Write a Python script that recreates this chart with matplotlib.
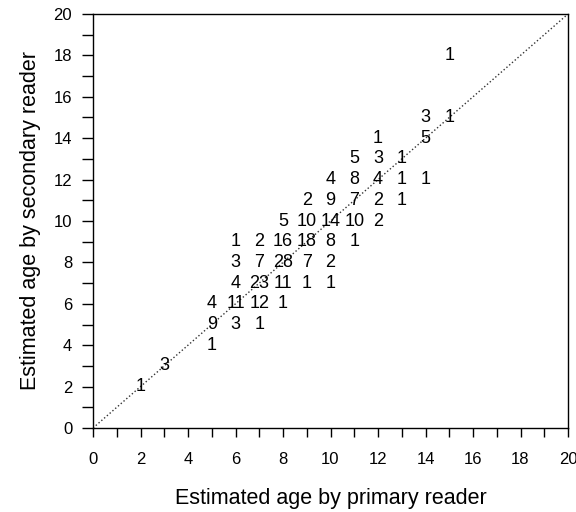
import matplotlib
matplotlib.use("Agg")
import matplotlib.pyplot as plt
import numpy as np

plt.rcParams['font.family'] = ['Liberation Sans', 'DejaVu Sans']

# age pairs (primary, secondary) and number of fish at each pair
primary = [2, 3,
           5, 5, 6, 7,
           5, 6, 7, 8,
           6, 7, 8, 9, 10,
           6, 7, 8, 9, 10,
           6, 7, 8, 9, 10, 11,
           8, 9, 10, 11, 12,
           9, 10, 11, 12, 13,
           10, 11, 12, 13, 14,
           11, 12, 13,
           12, 14,
           14, 15,
           15]
secondary = [2, 3,
             4, 5, 5, 5,
             6, 6, 6, 6,
             7, 7, 7, 7, 7,
             8, 8, 8, 8, 8,
             9, 9, 9, 9, 9, 9,
             10, 10, 10, 10, 10,
             11, 11, 11, 11, 11,
             12, 12, 12, 12, 12,
             13, 13, 13,
             14, 14,
             15, 15,
             18]
counts = [1, 3,
          1, 9, 3, 1,
          4, 11, 12, 1,
          4, 23, 11, 1, 1,
          3, 7, 28, 7, 2,
          1, 2, 16, 18, 8, 1,
          5, 10, 14, 10, 2,
          2, 9, 7, 2, 1,
          4, 8, 4, 1, 1,
          5, 3, 1,
          1, 5,
          3, 1,
          1]

fig = plt.figure(figsize=(5.76, 5.12), dpi=100)
ax = fig.add_axes([93 / 576, 84 / 512, 475 / 576, 414 / 512])

# 1:1 agreement line
ax.plot([0, 20], [0, 20], linestyle=':', color='#333333', linewidth=1.0)

for x, y, n in zip(primary, secondary, counts):
    ax.text(x, y, str(n), ha='center', va='center', fontsize=13, color='black')

ax.set_xlim(0, 20)
ax.set_ylim(0, 20)
ax.set_xticks(np.arange(0, 21, 2))
ax.set_yticks(np.arange(0, 21, 2))
ax.set_xticks(np.arange(0, 21, 1), minor=True)
ax.set_yticks(np.arange(0, 21, 1), minor=True)
ax.tick_params(axis='x', which='both', direction='out', length=6.5, width=1, pad=11, labelsize=12)
ax.tick_params(axis='y', which='both', direction='out', length=8, width=1, pad=7, labelsize=12)
for s in ax.spines.values():
    s.set_linewidth(1)

ax.set_xlabel('Estimated age by primary reader', fontsize=15.5, labelpad=15)
ax.set_ylabel('Estimated age by secondary reader', fontsize=15.5, labelpad=9)

fig.savefig('out.png', dpi=100)
